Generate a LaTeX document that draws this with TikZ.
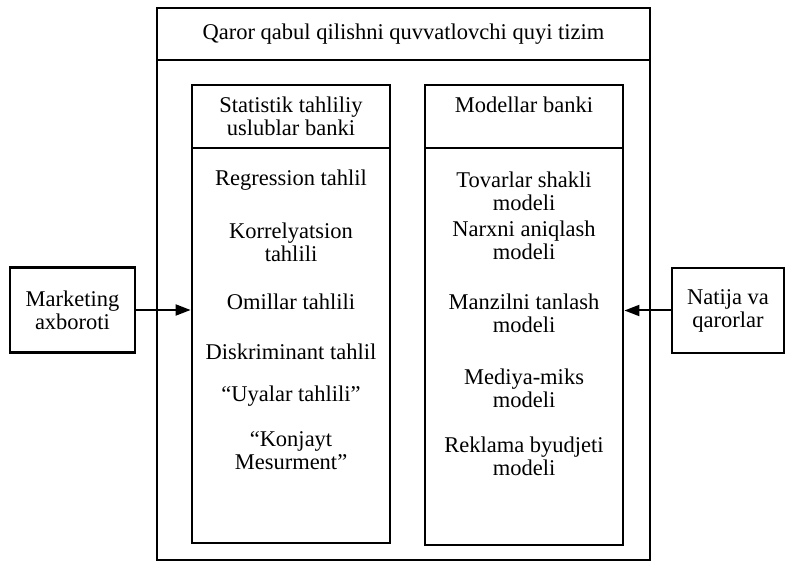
\documentclass[tikz,border=0pt]{standalone}
\usepackage{fontspec}
\setmainfont{Liberation Serif}
\usetikzlibrary{arrows.meta}

\begin{document}
\begin{tikzpicture}[x=1pt,y=-1pt,
  box/.style={draw, line width=2.8pt, inner sep=0pt, align=center},
  item/.style={align=center, inner sep=0pt},
  arr/.style={draw, line width=2pt, -{Triangle[length=15pt,width=11pt]}}]
\fontsize{22.5}{23}\selectfont
\useasboundingbox (0,0) rectangle (788,564);

\node[box, minimum width=493pt, minimum height=52pt] (title) at (403.5,34) {Qaror qabul qilishni quvvatlovchi quyi tizim};
\node[box, minimum width=493pt, minimum height=500pt] (sys) at (403.5,310) {};

\node[box, minimum width=198pt, minimum height=63pt] (stath) at (291,116.5) {Statistik tahliliy\\uslublar banki};
\node[box, minimum width=198pt, minimum height=395pt] (statb) at (291,345.5) {};
\node[box, minimum width=198pt, minimum height=63pt] (modh) at (524,116.5) {Modellar banki\\\mbox{}};
\node[box, minimum width=198pt, minimum height=397pt] (modb) at (524,346.5) {};

\node[item] (s1) at (291,180) {Regression tahlil};
\node[item] (s2) at (291,242) {Korrelyatsion\\tahlili};
\node[item] (s3) at (291,302) {Omillar tahlili};
\node[item] (s4) at (291,352) {Diskriminant tahlil};
\node[item] (s5) at (291,396) {``Uyalar tahlili''};
\node[item] (s6) at (291,451) {``Konjayt\\Mesurment''};

\node[item] (m1) at (524,191) {Tovarlar shakli\\modeli};
\node[item] (m2) at (524,240) {Narxni aniqlash\\modeli};
\node[item] (m3) at (524,313) {Manzilni tanlash\\modeli};
\node[item] (m4) at (524,388) {Mediya-miks\\modeli};
\node[item] (m5) at (524,456) {Reklama byudjeti\\modeli};

\node[box, line width=2.4pt, minimum width=125pt, minimum height=85pt] (mark) at (72.5,310) {Marketing\\axboroti};
\node[box, line width=2.4pt, minimum width=112pt, minimum height=85pt] (res) at (728,310.5) {Natija va\\qarorlar};

\path[arr] (mark.east) -- (mark.east -| statb.west);
\path[arr] (res.west) -- (res.west -| modb.east);
\end{tikzpicture}
\end{document}
